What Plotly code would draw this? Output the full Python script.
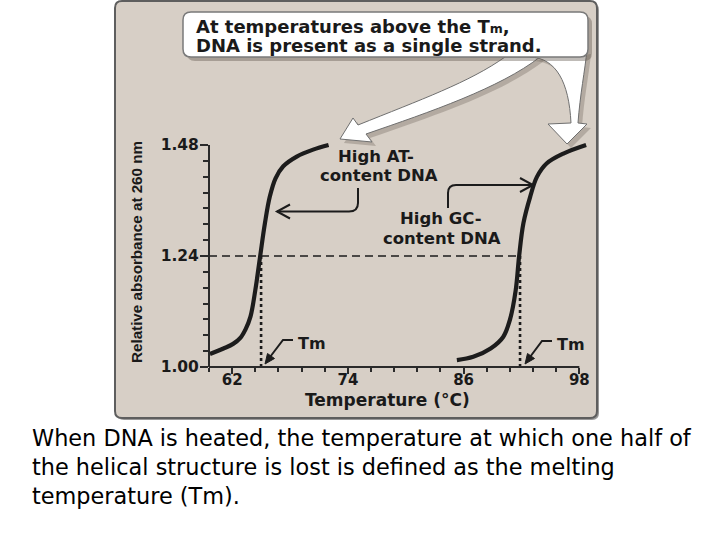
import plotly.graph_objects as go

# ---------------- data ----------------
at_temp = [59.7, 61.1, 62.1, 62.85, 63.4, 63.9, 64.4, 64.9, 65.4, 65.9, 66.5, 67.3, 68.7, 70.4, 72.0]
at_abs = [1.028, 1.040, 1.050, 1.063, 1.082, 1.109, 1.166, 1.239, 1.311, 1.368, 1.408, 1.434, 1.455, 1.470, 1.480]
gc_temp = [85.3, 87.0, 88.8, 90.1, 90.8, 91.4, 91.75, 92.2, 92.9, 93.6, 94.6, 96.4, 98.7]
gc_abs = [1.015, 1.022, 1.040, 1.065, 1.102, 1.166, 1.239, 1.311, 1.368, 1.411, 1.440, 1.462, 1.480]
tm_at = 65.0
tm_gc = 91.85
half_abs = 1.24
baseline_abs = 1.00
x_ticks = [62, 74, 86, 98]
x_ticktext = ["62", "74", "86", "98"]
y_ticks = [1.00, 1.24, 1.48]
y_ticktext = ["1.00", "1.24", "1.48"]
x_title = "Temperature (°C)"
y_title = "Relative absorbance at 260 nm"
callout_lines = ['At temperatures above the T<span style="font-size:12.5px">m</span>,',
                 "DNA is present as a single strand."]
at_label = ["High AT-", "content DNA"]
gc_label = ["High GC-", "content DNA"]
tm_text = "Tm"
caption = ("When DNA is heated, the temperature at which one half of<br>"
           "the helical structure is lost is defined as the melting<br>"
           "temperature (Tm).")

# ---------------- layout geometry (pixels) ----------------
FW, FH = 720, 540
L, R, T, B = 209, 589, 140, 367
PW, PH = R - L, B - T
X0, X1 = 59.6, 99.0
Y0, Y1 = 1.0, 1.0 + PH / 462.5


def px(x):
    return (x - L) / PW


def py(y):
    return (B - y) / PH


def dx(v):  # data x -> paper
    return (v - X0) / (X1 - X0)


def dy(v):  # data y -> paper
    return (v - Y0) / (Y1 - Y0)


def path(cmds, close=False):
    s = []
    for c, pts in cmds:
        s.append(c + " " + " ".join(f"{px(x):.5f},{py(y):.5f}" for x, y in pts))
    if close:
        s.append("Z")
    return " ".join(s)


def rrect(x0, y0, x1, y1, r):
    return path([
        ("M", [(x0 + r, y0)]), ("L", [(x1 - r, y0)]), ("Q", [(x1, y0), (x1, y0 + r)]),
        ("L", [(x1, y1 - r)]), ("Q", [(x1, y1), (x1 - r, y1)]),
        ("L", [(x0 + r, y1)]), ("Q", [(x0, y1), (x0, y1 - r)]),
        ("L", [(x0, y0 + r)]), ("Q", [(x0, y0), (x0 + r, y0)]),
    ], close=True)


def shift(cmds, ox, oy):
    return [(c, [(x + ox, y + oy) for x, y in pts]) for c, pts in cmds]


INK = "#1c1c1c"
shapes = []


def add(pathstr, fill=None, color=None, width=0, layer="below"):
    d = dict(type="path", xref="paper", yref="paper", path=pathstr, layer=layer,
             line=dict(color=color or "rgba(0,0,0,0)", width=width))
    if fill:
        d["fillcolor"] = fill
    shapes.append(d)


# panel
add(rrect(117, 3, 599, 420, 7), fill="rgba(70,70,70,0.55)")
add(rrect(115, 1, 597, 418, 7), fill="#d7cfc6", color="#5e5e5e", width=2)

# big white arrows
left_arrow = [("M", [(340, 139)]), ("L", [(353, 118)]), ("L", [(358, 125)]),
              ("C", [(420, 100), (470, 82), (505, 57)]), ("L", [(540, 57)]),
              ("C", [(500, 88), (430, 112), (366, 134)]), ("L", [(372, 142)])]
right_arrow = [("M", [(530, 57)]), ("C", [(556, 58), (569, 82), (571, 123)]),
               ("L", [(548, 124)]), ("L", [(567, 144)]), ("L", [(587, 124)]),
               ("L", [(578, 123)]), ("C", [(580, 95), (585, 70), (587, 50)])]
for shp in (left_arrow, right_arrow):
    add(path(shift(shp, 4, 4), close=True), fill="rgba(95,85,75,0.3)")
for shp in (left_arrow, right_arrow):
    add(path(shp, close=True), fill="white", color="#6f6f6f", width=1)

# callout box
add(rrect(187, 16, 592, 61, 8), fill="rgba(95,85,75,0.4)")
add(rrect(183, 12, 588, 57, 8), fill="white", color="#7a7a7a", width=1.5)

# axis lines
shapes.append(dict(type="line", xref="paper", yref="paper", x0=0, x1=dx(98), y0=0, y1=0,
                   line=dict(color="#2a2a2a", width=2), layer="above"))
shapes.append(dict(type="line", xref="paper", yref="paper", x0=0, x1=0, y0=0, y1=dy(1.48),
                   line=dict(color="#2a2a2a", width=2), layer="above"))

# bracket connectors
add(path([("M", [(358, 188)]), ("L", [(358, 203)]), ("Q", [(358, 211.5), (349, 211.5)]),
          ("L", [(277, 211.5)])]), color=INK, width=2, layer="above")
add(path([("M", [(290, 204.5)]), ("L", [(277, 211.5)]), ("L", [(290, 218.5)])]),
    color=INK, width=2, layer="above")
add(path([("M", [(448, 208)]), ("L", [(448, 193)]), ("Q", [(448, 185), (456, 185)]),
          ("L", [(533, 185)])]), color=INK, width=2, layer="above")
add(path([("M", [(520, 178)]), ("L", [(533, 185)]), ("L", [(520, 192)])]),
    color=INK, width=2, layer="above")

# Tm pointer arrows
add(path([("M", [(293, 340)]), ("L", [(283, 340)]), ("L", [(270, 357)])]),
    color=INK, width=2, layer="above")
add(path([("M", [(265, 364)]), ("L", [(274.5, 358.5)]), ("L", [(267.5, 353.5)])], close=True),
    fill=INK, color=INK, width=1, layer="above")
add(path([("M", [(552, 341)]), ("L", [(542, 341)]), ("L", [(530, 357)])]),
    color=INK, width=2, layer="above")
add(path([("M", [(525, 364)]), ("L", [(534.5, 358.5)]), ("L", [(527.5, 353.5)])], close=True),
    fill=INK, color=INK, width=1, layer="above")

# ---------------- traces ----------------
fig = go.Figure()
fig.add_trace(go.Scatter(x=[X0, tm_gc - 0.1], y=[half_abs, half_abs], mode="lines",
                         line=dict(color=INK, width=1.6, dash="8px,5px"), hoverinfo="skip"))
for tm in (tm_at, tm_gc):
    fig.add_trace(go.Scatter(x=[tm, tm], y=[baseline_abs, half_abs], mode="lines",
                             line=dict(color=INK, width=2.6, dash="dot"), hoverinfo="skip"))
for xs, ys in ((at_temp, at_abs), (gc_temp, gc_abs)):
    fig.add_trace(go.Scatter(x=xs, y=ys, mode="lines",
                             line=dict(color=INK, width=4.2, shape="spline", smoothing=1.0),
                             hoverinfo="skip"))

# ---------------- text ----------------
BOLD = "DejaVu Sans"
anns = []


def txt(t, x, y, size, family=BOLD, weight="bold", xanchor="center", yanchor="middle",
        angle=0, align="center", color="#1a1a1a"):
    anns.append(dict(text=t, x=px(x), y=py(y), xref="paper", yref="paper", showarrow=False,
                     xanchor=xanchor, yanchor=yanchor, textangle=angle, align=align,
                     font=dict(family=family, size=size, weight=weight, color=color)))


txt(callout_lines[0], 194, 26.5, 18, xanchor="left")
txt(callout_lines[1], 194, 46, 18, xanchor="left")
txt(at_label[0], 376, 156, 16.5)
txt(at_label[1], 379, 175.5, 16.5)
txt(gc_label[0], 441, 218.5, 16.5)
txt(gc_label[1], 442, 238, 16.5)
txt(tm_text, 312, 343, 16)
txt(tm_text, 571, 344, 16)
txt(x_title, 387, 399.5, 17)
txt(y_title, 136, 252, 15.2, family="Liberation Sans", angle=-90)
txt(caption, 30, 467, 22.4, family="DejaVu Sans", weight="normal", xanchor="left",
    align="left", color="black")

fig.update_layout(
    width=FW, height=FH,
    margin=dict(l=L, r=FW - R, t=T, b=FH - B, pad=0),
    paper_bgcolor="white", plot_bgcolor="rgba(0,0,0,0)",
    showlegend=False,
    shapes=shapes, annotations=anns,
    xaxis=dict(range=[X0, X1], showgrid=False, zeroline=False, showline=False,
               tickmode="array", tickvals=x_ticks, ticktext=x_ticktext,
               ticks="outside", ticklen=6, tickwidth=2, tickcolor="#2a2a2a",
               ticklabelstandoff=-7,
               tickfont=dict(family=BOLD, size=15, weight="bold", color="#1a1a1a"),
               minor=dict(tickmode="linear", tick0=62, dtick=2.4, ticks="outside",
                          ticklen=4, tickwidth=1.6, tickcolor="#2a2a2a")),
    yaxis=dict(range=[Y0, Y1], showgrid=False, zeroline=False, showline=False,
               tickmode="array", tickvals=y_ticks, ticktext=y_ticktext,
               ticks="outside", ticklen=8, tickwidth=2, tickcolor="#2a2a2a",
               ticklabelstandoff=-2,
               tickfont=dict(family=BOLD, size=15.5, weight="bold", color="#1a1a1a"),
               minor=dict(tickmode="linear", tick0=1.0, dtick=0.24 / 7, ticks="outside",
                          ticklen=5, tickwidth=1.6, tickcolor="#2a2a2a")),
)

fig.write_html("out.html", config={"displayModeBar": False},
               post_script="document.body.style.margin='0';")
